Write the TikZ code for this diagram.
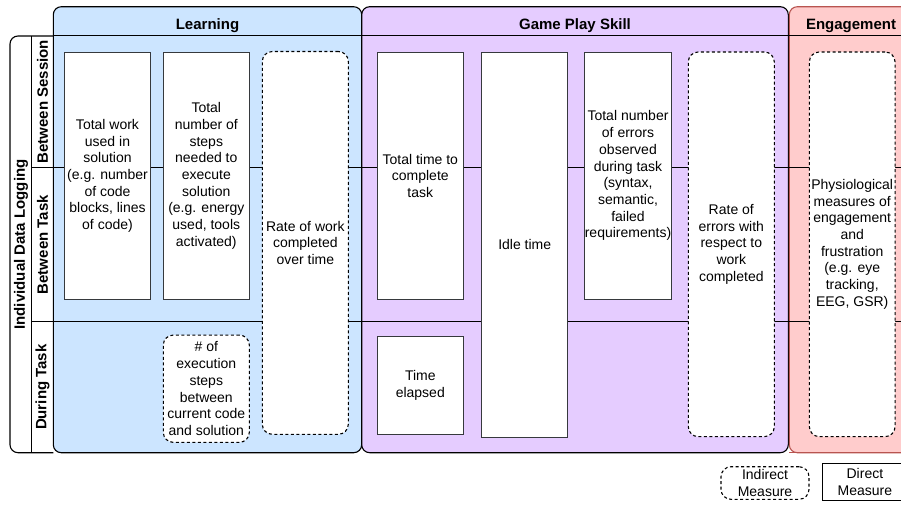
\documentclass[tikz,border=0pt]{standalone}
\usepackage{fontspec}
\setmainfont{Liberation Sans}
\definecolor{learnfill}{HTML}{CCE5FF}
\definecolor{playfill}{HTML}{E5CCFF}
\definecolor{engfill}{HTML}{FFCCCC}
\definecolor{engline}{HTML}{B85450}
\definecolor{boxline}{HTML}{36393D}
\tikzset{
  panel/.style={draw=black, line width=1.1pt, rounded corners=8, inner sep=0, outer sep=0},
  head/.style={font=\fontsize{15}{18}\selectfont\bfseries, anchor=base, inner sep=0},
  rowlabel/.style={font=\fontsize{15}{18}\selectfont\bfseries, rotate=90, inner sep=0},
  solidbox/.style={draw=boxline, line width=1.1pt, fill=white, inner sep=0, align=center,
    font=\fontsize{14}{16.7}\selectfont},
  dashbox/.style={solidbox, draw=black, dash pattern=on 3pt off 2.5pt, rounded corners=10},
  grid/.style={draw=black, line width=1.1pt}
}
\begin{document}
\begin{tikzpicture}[x=1pt, y=-1pt]
\useasboundingbox (0,0) rectangle (901,504);
\clip (0,0) rectangle (901,504);
% three category panels
\node[panel, fill=learnfill, minimum width=308.4, minimum height=446, anchor=north west] (learning) at (53.3,6.7) {};
\node[panel, fill=playfill, minimum width=426.6, minimum height=446, anchor=north west] (play) at (361.7,6.7) {};
\node[panel, fill=engfill, draw=engline, minimum width=124, minimum height=446, anchor=north west] (engage) at (789.3,6.7) {};
\draw[engline, line width=1.1pt] (engage.south west) -- (engage.south east);
% header titles
\node[head] (hlearn) at (207.5,29.3) {Learning};
\node[head] (hplay) at (575,29.3) {Game Play Skill};
\node[head] (heng) at (851,29.3) {Engagement};
% header rules and row rules
\draw[grid] (53.3,35.5) -- (901,35.5);
\draw[grid] (31.7,167.7) -- (901,167.7);
\draw[grid] (31.7,321.7) -- (901,321.7);
% row label frame
\draw[grid, rounded corners=8] (53.3,36) -- (10,36) -- (10,452.7) -- (53.3,452.7);
\draw[grid] (31.7,36) -- (31.7,452.7);
\node[rowlabel] (idl) at (21,244.5) {Individual Data Logging};
\node[rowlabel] (rsess) at (42.5,101.8) {Between Session};
\node[rowlabel] (rtask) at (42.5,244.7) {Between Task};
\node[rowlabel] (rduring) at (42.5,387.2) {During Task};
% learning measures
\node[solidbox, minimum width=86.4, minimum height=247] (work) at (107.5,175.8)
  {Total work\\used in\\solution\\(e.g. number\\of code\\blocks, lines\\of code)};
\node[solidbox, minimum width=86, minimum height=247] (steps) at (206.3,175.8)
  {Total\\number of\\steps\\needed to\\execute\\solution\\(e.g. energy\\used, tools\\activated)};
\node[dashbox, minimum width=86, minimum height=382.8] (rate) at (305.3,242.9)
  {Rate of work\\completed\\over time};
\node[dashbox, minimum width=86, minimum height=107.3] (exec) at (206.3,388.7)
  {\# of\\execution\\steps\\between\\current code\\and solution};
% game play measures
\node[solidbox, minimum width=86, minimum height=247] (ttime) at (420.3,175.8)
  {Total time to\\complete\\task};
\node[solidbox, minimum width=86, minimum height=98.3] (elapsed) at (420.3,385.2)
  {Time\\elapsed};
\node[solidbox, minimum width=86, minimum height=385] (idle) at (524.7,244.8)
  {Idle time};
\node[solidbox, minimum width=86, minimum height=247] (errors) at (628,175.8)
  {Total number\\of errors\\observed\\during task\\(syntax,\\semantic,\\failed\\requirements)};
\node[dashbox, minimum width=86, minimum height=384.7] (erate) at (731.3,244.3)
  {Rate of\\errors with\\respect to\\work\\completed};
% engagement measure
\node[dashbox, minimum width=85.7, minimum height=384.7] (physio) at (852.2,244.3)
  {Physiological\\measures of\\engagement\\and\\frustration\\(e.g. eye\\tracking,\\EEG, GSR)};
% legend
\node[dashbox, minimum width=88, minimum height=32.6] (indirect) at (765,483)
  {Indirect\\Measure};
\node[solidbox, draw=black, minimum width=84.3, minimum height=36.7] (direct) at (864.9,481.7)
  {Direct\\Measure};
\end{tikzpicture}
\end{document}
